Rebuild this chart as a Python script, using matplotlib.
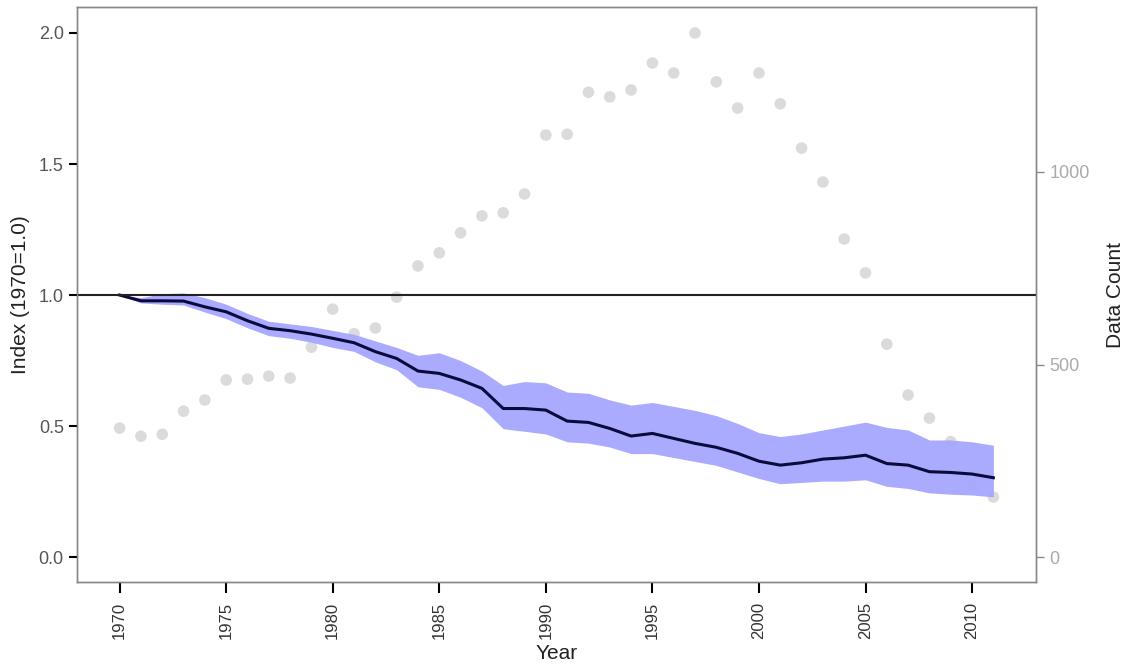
import numpy as np
import matplotlib
matplotlib.use("Agg")
import matplotlib.pyplot as plt

plt.rcParams['font.family'] = ['Liberation Sans', 'DejaVu Sans']

years = list(range(1970, 2012))

# index estimate and its confidence band
index = [1.0, 0.978, 0.978, 0.977, 0.955, 0.936, 0.902, 0.873, 0.864, 0.851,
         0.835, 0.818, 0.784, 0.758, 0.710, 0.701, 0.676, 0.644, 0.567, 0.567,
         0.561, 0.519, 0.514, 0.491, 0.462, 0.472, 0.453, 0.434, 0.419, 0.396,
         0.366, 0.351, 0.360, 0.374, 0.379, 0.389, 0.357, 0.351, 0.326, 0.323,
         0.317, 0.303]
upper = [1.0, 0.99, 1.005, 1.008, 0.99, 0.965, 0.93, 0.90, 0.89, 0.88,
         0.865, 0.85, 0.825, 0.80, 0.77, 0.78, 0.75, 0.71, 0.655, 0.67,
         0.665, 0.63, 0.625, 0.60, 0.58, 0.59, 0.575, 0.56, 0.54, 0.51,
         0.475, 0.46, 0.47, 0.485, 0.50, 0.515, 0.495, 0.485, 0.447, 0.447,
         0.44, 0.427]
lower = [1.0, 0.97, 0.965, 0.962, 0.935, 0.91, 0.875, 0.845, 0.835, 0.82,
         0.80, 0.785, 0.745, 0.715, 0.65, 0.64, 0.61, 0.57, 0.49, 0.48,
         0.47, 0.44, 0.435, 0.42, 0.395, 0.395, 0.38, 0.365, 0.35, 0.325,
         0.30, 0.28, 0.285, 0.29, 0.29, 0.295, 0.27, 0.262, 0.245, 0.24,
         0.237, 0.23]

# number of data points per year (right axis)
counts = [335, 314, 319, 379, 408, 460, 462, 470, 465, 545,
          644, 580, 595, 675, 756, 790, 842, 886, 894, 943,
          1096, 1098, 1207, 1195, 1213, 1283, 1257, 1361, 1234, 1166,
          1257, 1177, 1062, 974, 826, 738, 553, 421, 361, 300,
          187, 156]

fig = plt.figure(figsize=(11.24, 6.68), dpi=100)
ax = fig.add_axes([0.0685, 0.1287, 0.8532, 0.8608])
ax2 = ax.twinx()

# dots behind the index band
ax2.scatter(years, counts, s=70, color='#d0d0d0', alpha=0.75, edgecolors='none')
ax.set_zorder(ax2.get_zorder() + 1)
ax.patch.set_visible(False)

ax.fill_between(years, lower, upper, color='#a6a6ff', alpha=0.95, linewidth=0)
ax.plot(years, index, color='#0a0a3c', linewidth=2.2)
ax.axhline(1.0, color='#222222', linewidth=1.5)

ax.set_xlim(1968, 2013)
ax.set_ylim(-0.095, 2.099)
ax2.set_ylim(-0.095 * 680.5, 2.099 * 680.5)

ax.set_xticks(range(1970, 2011, 5))
ax.set_yticks([0.0, 0.5, 1.0, 1.5, 2.0])
ax.set_yticklabels(['0.0', '0.5', '1.0', '1.5', '2.0'])
ax2.set_yticks([0, 500, 1000])

ax.tick_params(axis='x', labelrotation=90, length=8, width=1.5, color='black',
               labelcolor='#333333', labelsize=12, pad=6)
ax.tick_params(axis='y', length=6, width=1.5, color='black',
               labelcolor='#555555', labelsize=13)
ax2.tick_params(axis='y', length=6, width=1, color='#888888',
                labelcolor='#aaaaaa', labelsize=13)

for a in (ax, ax2):
    for s in a.spines.values():
        s.set_color('#888888')
        s.set_linewidth(1)

ax.set_xlabel('Year', fontsize=15, color='#222222', labelpad=4)
ax.set_ylabel('Index (1970=1.0)', fontsize=15, color='#222222', labelpad=6)
ax2.set_ylabel('Data Count', fontsize=15, color='#222222', labelpad=12)

fig.savefig('out.png', dpi=100)
